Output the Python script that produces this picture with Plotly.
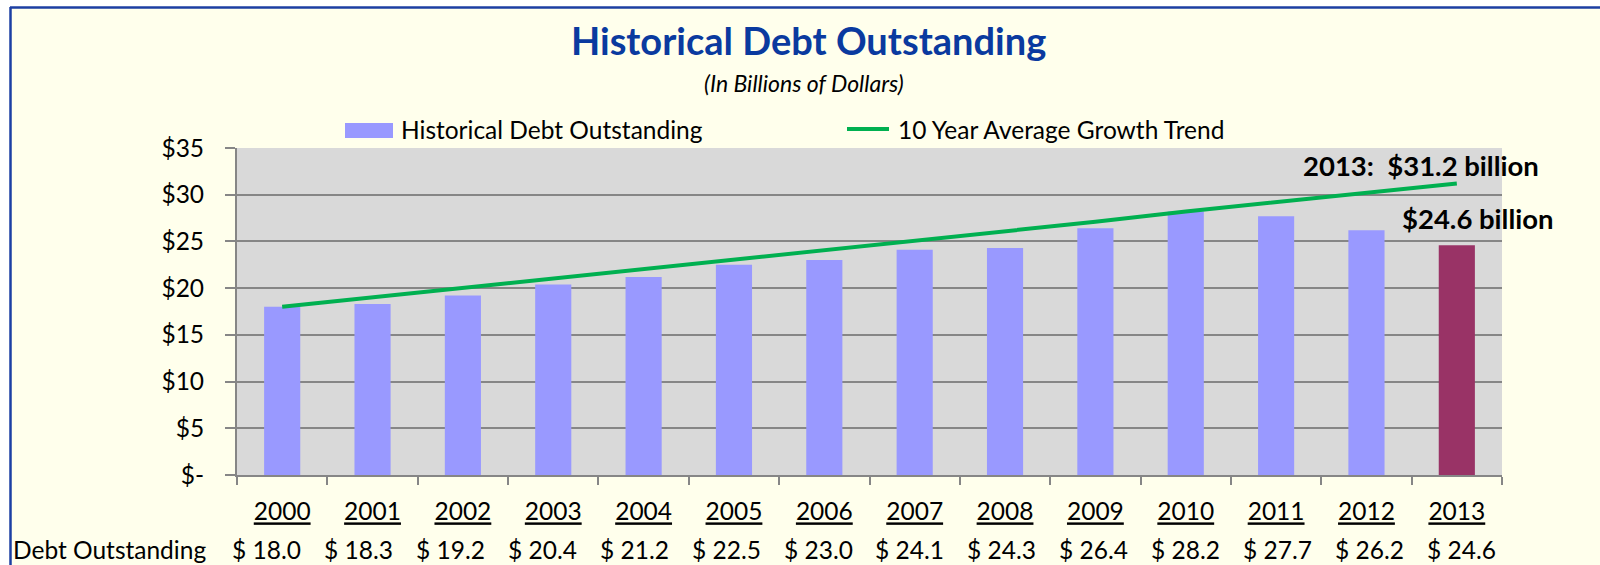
import plotly.graph_objects as go

# ---- data ----
years = [2000, 2001, 2002, 2003, 2004, 2005, 2006, 2007, 2008, 2009, 2010, 2011, 2012, 2013]
debt = [18.0, 18.3, 19.2, 20.4, 21.2, 22.5, 23.0, 24.1, 24.3, 26.4, 28.2, 27.7, 26.2, 24.6]
trend = [18.0, 19.0, 20.1, 21.0, 22.0, 23.1, 24.1, 25.1, 26.1, 27.1, 28.2, 29.2, 30.2, 31.2]
y_ticks = [0, 5, 10, 15, 20, 25, 30, 35]
y_tick_labels = ["$-", "$5", "$10", "$15", "$20", "$25", "$30", "$35"]

# ---- geometry (pixels) ----
W, H = 1600, 565
L, R, T, B = 237, 98, 148, 90
PW, PH = W - L - R, H - T - B

def px(x):
    return (x - L) / PW

def py(y):
    return (H - B - y) / PH

FONT = "Lato"
FS = 24.5
GRAY = "#868686"
BAR = "#9999FF"
BAR_LAST = "#993366"
GREEN = "#00B050"
YELLOW = "#FFFFEC"
BLUE = "#1C3FA3"

cats = [str(y) for y in years]
n = len(years)
idx = list(range(n))
bar_colors = [BAR] * (n - 1) + [BAR_LAST]

fig = go.Figure()
fig.add_trace(go.Bar(x=cats, y=debt, marker=dict(color=bar_colors, line=dict(width=0)),
                     width=0.4, name="Historical Debt Outstanding", showlegend=False,
                     hoverinfo="x+y"))
fig.add_trace(go.Scatter(x=cats, y=trend, mode="lines", line=dict(color=GREEN, width=4),
                         name="10 Year Average Growth Trend", showlegend=False))

shapes = []
# white outside of frame
shapes.append(dict(type="rect", xref="paper", yref="paper", x0=px(-5), x1=px(10), y0=py(-5), y1=py(H + 5),
                   fillcolor="white", line=dict(width=0)))
shapes.append(dict(type="rect", xref="paper", yref="paper", x0=px(-5), x1=px(W + 5), y0=py(-5), y1=py(7),
                   fillcolor="white", line=dict(width=0)))
# blue frame lines
shapes.append(dict(type="line", xref="paper", yref="paper", x0=px(10), x1=px(W + 5), y0=py(7.5), y1=py(7.5),
                   line=dict(color=BLUE, width=2.5)))
shapes.append(dict(type="line", xref="paper", yref="paper", x0=px(10.5), x1=px(10.5), y0=py(7), y1=py(H + 5),
                   line=dict(color=BLUE, width=2.5)))
# legend swatches
shapes.append(dict(type="rect", xref="paper", yref="paper", x0=px(345), x1=px(393), y0=py(138), y1=py(123),
                   fillcolor=BAR, line=dict(width=0)))
shapes.append(dict(type="line", xref="paper", yref="paper", x0=px(847), x1=px(889), y0=py(129), y1=py(129),
                   line=dict(color=GREEN, width=4)))

annotations = []
annotations.append(dict(text="<b>Historical Debt Outstanding</b>", xref="paper", yref="paper",
                        x=px(808), y=py(40), xanchor="center", yanchor="middle", showarrow=False,
                        font=dict(family=FONT, size=38, color="#0A3A9F")))
annotations.append(dict(text="<i>(In Billions of Dollars)</i>", xref="paper", yref="paper",
                        x=px(804), y=py(83), xanchor="center", yanchor="middle", showarrow=False,
                        font=dict(family=FONT, size=23, color="black")))
annotations.append(dict(text="Historical Debt Outstanding", xref="paper", yref="paper",
                        x=px(399), y=py(129), xanchor="left", yanchor="middle", showarrow=False,
                        font=dict(family=FONT, size=FS, color="black")))
annotations.append(dict(text="10 Year Average Growth Trend", xref="paper", yref="paper",
                        x=px(896), y=py(129), xanchor="left", yanchor="middle", showarrow=False,
                        font=dict(family=FONT, size=FS, color="black")))
annotations.append(dict(text="<b>%d:&nbsp; $%.1f billion</b>" % (years[-1], trend[-1]), xref="x", yref="y",
                        x=idx[-1], y=trend[-1], xanchor="right", yanchor="middle", xshift=84, yshift=18,
                        showarrow=False, font=dict(family=FONT, size=27.5, color="black")))
annotations.append(dict(text="<b>$%.1f billion</b>" % debt[-1], xref="x", yref="y",
                        x=idx[-1], y=debt[-1], xanchor="right", yanchor="middle", xshift=99, yshift=27,
                        showarrow=False, font=dict(family=FONT, size=27.5, color="black")))
# data table row
annotations.append(dict(text="Debt Outstanding", xref="paper", yref="paper",
                        x=px(208), y=py(549), xanchor="right", yanchor="middle", showarrow=False,
                        font=dict(family=FONT, size=FS, color="black")))
for i, v in enumerate(debt):
    annotations.append(dict(text="$ %.1f" % v, xref="x", yref="paper",
                            x=idx[i], y=py(549), xanchor="center", yanchor="middle",
                            xshift=-16.0 + 21.0 * i / (n - 1), showarrow=False,
                            font=dict(family=FONT, size=FS, color="black")))

fig.update_layout(
    width=W, height=H, autosize=False,
    margin=dict(l=L, r=R, t=T, b=B, pad=0),
    paper_bgcolor=YELLOW, plot_bgcolor="#D9D9D9",
    font=dict(family=FONT, size=FS, color="black"),
    shapes=shapes, annotations=annotations,
    bargap=0.6, showlegend=False,
)
fig.update_xaxes(
    type="category", range=[-0.5, n - 0.5], autorange=False,
    tickmode="array", tickvals=cats,
    ticktext=["<u>%s</u>" % c for c in cats],
    ticks="outside", tickson="boundaries", ticklen=8, tickwidth=2, tickcolor=GRAY,
    showline=True, linecolor=GRAY, linewidth=2, showgrid=False, zeroline=False,
    tickfont=dict(family=FONT, size=FS, color="black"), ticklabelstandoff=14,
)
fig.update_yaxes(
    range=[0, 35], autorange=False, tickmode="array", tickvals=y_ticks, ticktext=y_tick_labels,
    ticks="outside", ticklen=10, tickwidth=2, tickcolor=GRAY,
    showline=True, linecolor=GRAY, linewidth=2, showgrid=True, gridcolor=GRAY, gridwidth=2,
    zeroline=False, tickfont=dict(family=FONT, size=FS, color="black"), ticklabelstandoff=16,
)

fig.write_html("out.html")
